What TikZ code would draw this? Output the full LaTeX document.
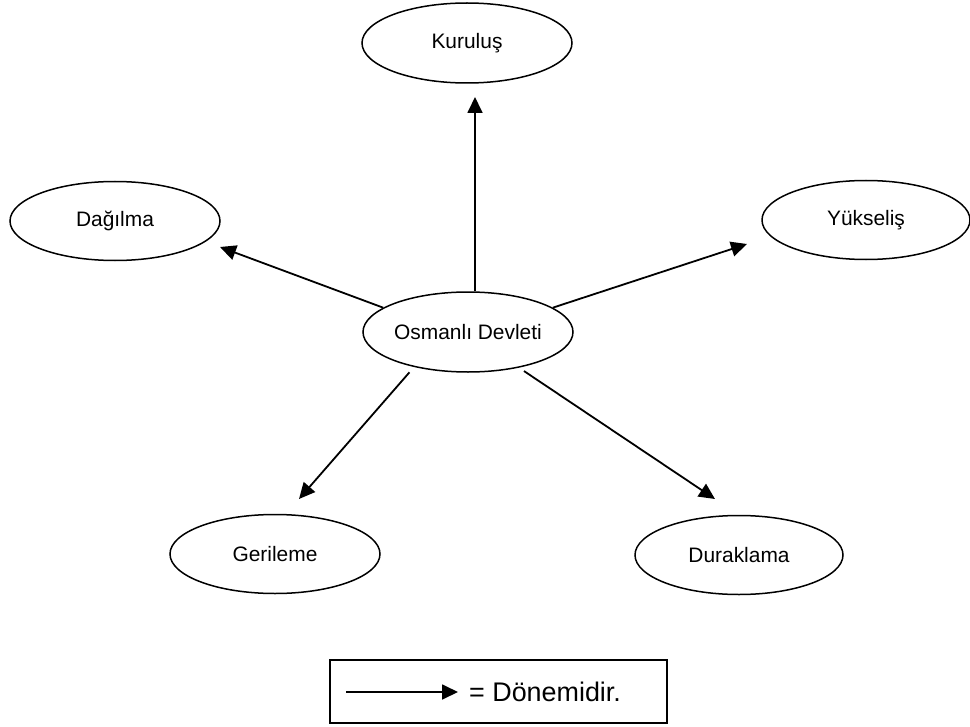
\documentclass[tikz,border=0pt]{standalone}
\usepackage{fontspec}
\setmainfont{Liberation Sans}
\usetikzlibrary{shapes.geometric,arrows.meta}
\begin{document}
\begin{tikzpicture}[x=1bp,y=-1bp,
  period/.style={draw, ellipse, line width=1.5bp, inner sep=0pt,
    minimum width=210bp, minimum height=79bp,
    font=\fontsize{21}{25}\selectfont},
  link/.style={line width=1.8bp, -{Triangle[length=16bp,width=15bp]}},
  legendbox/.style={draw, line width=1.5bp, minimum width=337bp, minimum height=63bp}]
\useasboundingbox (0,0) rectangle (970,727);

% periods
\node[period, minimum height=80bp] (kur) at (467,43) {Kuruluş};
\node[period] (dag) at (115,221) {Dağılma};
\node[period, minimum width=208bp] (yuk) at (866,220) {Yükseliş};
\node[period, minimum height=80bp] (osm) at (468,332) {Osmanlı Devleti};
\node[period] (ger) at (275,554) {Gerileme};
\node[period, minimum width=208bp] (dur) at (739,555) {Duraklama};

% arrow tips, kept clear of the target ellipses
\coordinate (tkur) at (475,97);
\coordinate (tdag) at (220,247);
\coordinate (tyuk) at (747,244);
\coordinate (tger) at (299,499);
\coordinate (tdur) at (715,499);

\draw[link] (tkur |- osm.north) -- (tkur);
\draw[link] (osm.164) -- (tdag);
\draw[link] (osm.16) -- (tyuk);
\draw[link, shorten <=7bp] (osm.213) -- (tger);
\draw[link, shorten <=6bp] (osm.-35) -- (tdur);

% legend
\node[legendbox] (leg) at (498.5,691.5) {};
\coordinate (la) at (346,692);
\coordinate (lb) at (458,692);
\draw[link] (la) -- (lb);
\node[anchor=west, inner sep=0pt, font=\fontsize{27}{31}\selectfont] (ltxt) at (469,692) {= Dönemidir.};
\end{tikzpicture}
\end{document}
